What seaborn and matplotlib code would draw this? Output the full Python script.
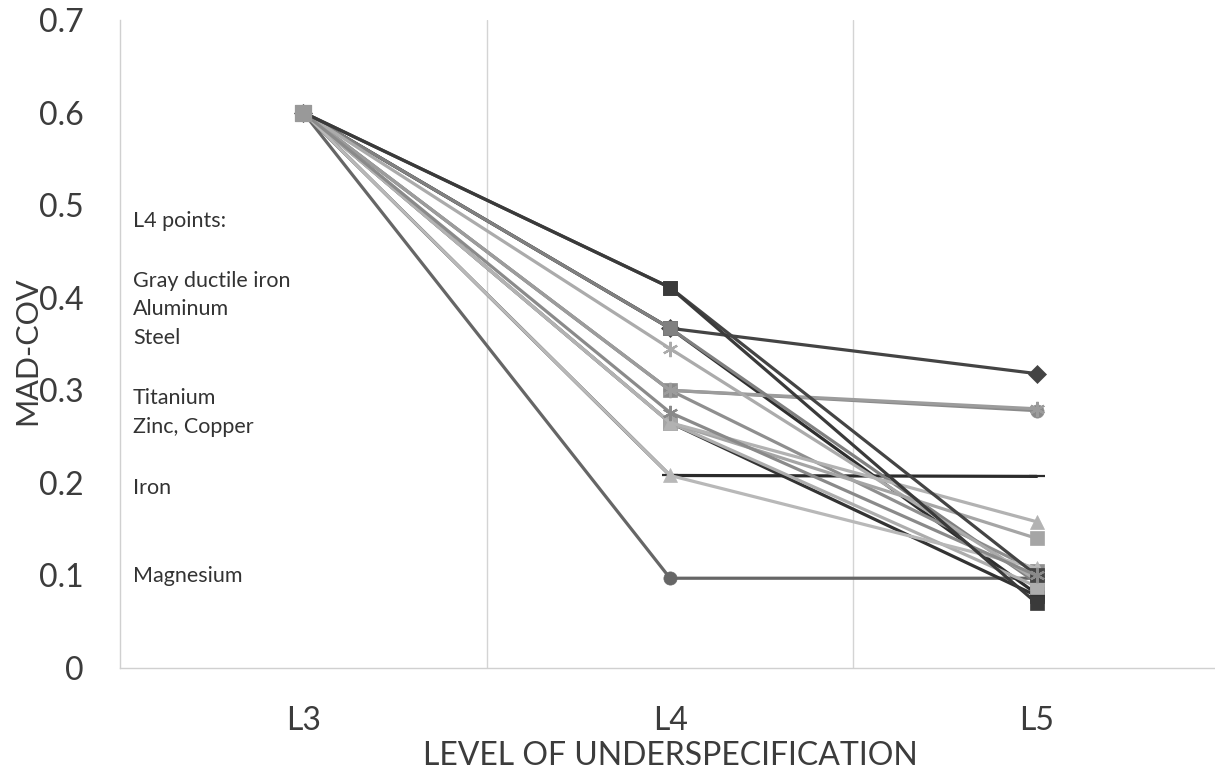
import matplotlib
matplotlib.use("Agg")
import matplotlib.pyplot as plt
import seaborn as sns

# ---------------- data ----------------
levels = ["L3", "L4", "L5"]
series_names = ["S1", "S2", "S3", "S4", "S5", "S6", "S7", "S8", "S9",
                "S10", "S11", "S12", "S13", "S14", "S15", "S16", "S17"]
l3_values = [0.600, 0.600, 0.600, 0.600, 0.600, 0.600, 0.600, 0.600, 0.600,
             0.600, 0.600, 0.600, 0.600, 0.600, 0.600, 0.600, 0.600]
l4_values = [0.411, 0.411, 0.367, 0.367, 0.367, 0.345, 0.300, 0.300, 0.276,
             0.265, 0.265, 0.265, 0.265, 0.208, 0.208, 0.097, 0.300]
l5_values = [0.070, 0.100, 0.318, 0.080, 0.092, 0.095, 0.278, 0.280, 0.100,
             0.158, 0.140, 0.078, 0.088, 0.207, 0.108, 0.097, 0.105]

ytick_values = [0.0, 0.1, 0.2, 0.3, 0.4, 0.5, 0.6, 0.7]
ytick_labels = ["0", "0.1", "0.2", "0.3", "0.4", "0.5", "0.6", "0.7"]

note_texts = ["L4 points:", "Gray ductile iron", "Aluminum", "Steel",
              "Titanium", "Zinc, Copper", "Iron", "Magnesium"]
note_y = [0.483, 0.418, 0.388, 0.357, 0.292, 0.260, 0.194, 0.099]

# ---------------- styles ----------------
colors = ["#3a3a3a", "#444444", "#444444", "#2e2e2e", "#808080", "#ababab",
          "#8a8a8a", "#9c9c9c", "#8a8a8a", "#b2b2b2", "#a5a5a5", "#333333",
          "#adadad", "#2b2b2b", "#b8b8b8", "#666666", "#8f8f8f"]
AST = (6, 2, 0)
markers = ["s", "s", "D", "s", "s", AST, "o", AST, AST,
           "^", "s", "s", "s", "_", "^", "o", "s"]
draw_order = [15, 3, 11, 13, 2, 16, 6, 7, 4, 5, 12, 10, 9, 14, 1, 8, 0]

sns.set_theme(style="white")
plt.rcParams["font.family"] = ["Lato", "DejaVu Sans"]

fig = plt.figure(figsize=(12.15, 7.69), dpi=100)
ax = fig.add_axes([0.0988, 0.1313, 0.9054, 0.8427])

for i in draw_order:
    yvals = [l3_values[i], l4_values[i], l5_values[i]]
    m = markers[i]
    line_art = (m == AST) or (m == "_")
    sns.lineplot(x=levels, y=yvals, ax=ax, color=colors[i], sort=False,
                 linewidth=2.3, marker=m,
                 markersize=11 if line_art else 9.5,
                 markeredgecolor=colors[i],
                 markeredgewidth=1.6 if line_art else 0.5,
                 markerfacecolor=colors[i], legend=False, zorder=3)

# L3 common marker on top
sns.scatterplot(x=[levels[0]], y=[l3_values[0]], ax=ax, marker="s", s=130,
                color="#999999", edgecolor="#999999", zorder=5, legend=False)

ax.set_xlim(-0.5, 2.5)
ax.set_ylim(0, 0.7)
ax.set_yticks(ytick_values)
ax.set_yticklabels(ytick_labels)
ax.tick_params(axis="both", which="major", length=0, labelsize=23,
               labelcolor="#3c3c3c")
ax.tick_params(axis="y", pad=26)
ax.tick_params(axis="x", pad=27)
ax.set_xticks([0.5, 1.5], minor=True)
ax.tick_params(axis="x", which="minor", length=7, color="#d0d0d0", width=1)
ax.grid(False)
ax.grid(True, which="minor", axis="x", color="#d4d4d4", linewidth=1)

for side in ["top", "right"]:
    ax.spines[side].set_visible(False)
for side in ["left", "bottom"]:
    ax.spines[side].set_color("#d0d0d0")
    ax.spines[side].set_linewidth(1)

ax.set_xlabel("LEVEL OF UNDERSPECIFICATION", fontsize=23, color="#3c3c3c",
              labelpad=4)
ax.set_ylabel("MAD-COV", fontsize=22, color="#3c3c3c")
ax.yaxis.set_label_coords(-0.072, 0.49)

for t, yv in zip(note_texts, note_y):
    ax.text(-0.465, yv, t, fontsize=15.5, color="#333333", va="center",
            ha="left")

fig.savefig("out.png", dpi=100)
